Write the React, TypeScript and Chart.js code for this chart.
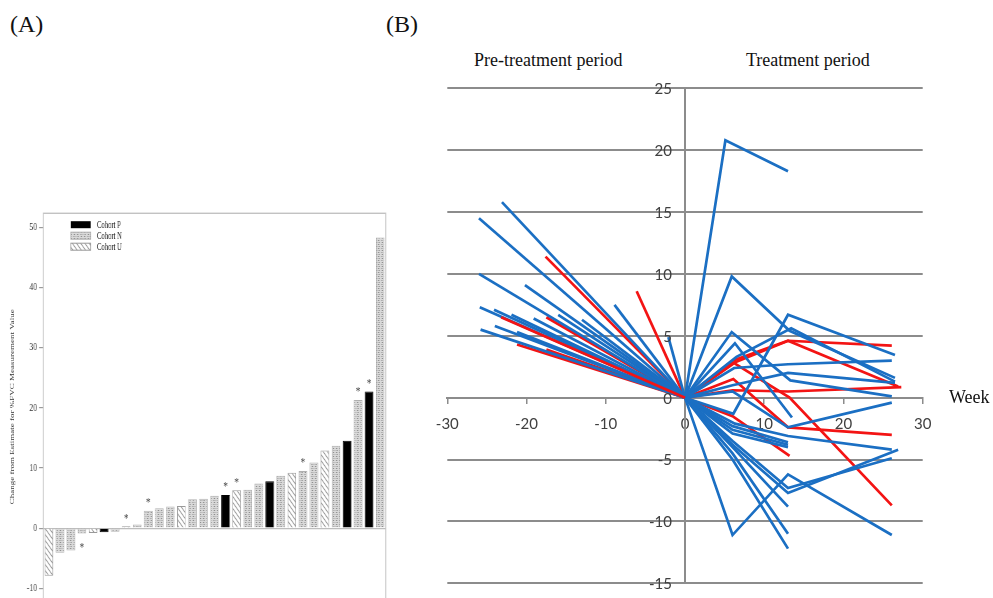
import React, { useEffect, useRef } from "react";
import { Chart, registerables } from "chart.js";

Chart.register(...registerables);

// ---------- Panel A data ----------
const patientLabels = ["1","2","3","4","5","6","7","8","9","10","11","12","13","14","15","16","17","18","19","20","21","22","23","24","25","26","27","28","29","30","31"];
const cohorts = ["U","N","N","N","U","P","N","U","N","N","N","N","U","N","N","N","P","U","N","N","P","N","U","N","N","U","N","P","N","P","N"];
const changes = [-7.9,-4.1,-3.7,-0.9,-0.8,-0.7,-0.6,0.3,0.6,2.9,3.3,3.6,3.7,4.8,4.9,5.4,5.5,6.3,6.4,7.4,7.8,8.7,9.2,9.5,10.9,12.9,13.7,14.5,21.3,22.7,48.3];
const starredBars = [3,7,9,16,17,23,28,29];
const yTicksA = [-10,0,10,20,30,40,50];
const legendA = [
  { key: "P", label: "Cohort P" },
  { key: "N", label: "Cohort N" },
  { key: "U", label: "Cohort U" },
];
const yTitleA = "Change from Estimate for %FVC Measurement Value";

// ---------- Panel B data (week, change) ----------
const preBlue: [number, number][] = [
  [-23.1,15.8],[-26.0,14.5],[-26.0,10.0],[-20.2,9.1],[-8.9,7.5],[-25.9,7.3],[-24.1,7.1],
  [-21.9,6.7],[-19.1,6.4],[-16.0,6.7],[-13.0,6.3],[-25.8,5.5],[-24.0,5.8],[-21.2,5.3],[-2.1,4.9],
];
const preRed: [number, number][] = [
  [-23.2,6.5],[-17.6,11.4],[-6.1,8.6],[-17.5,6.5],[-21.2,4.3],[-17.5,3.9],
];
const postBlue: [number, number][][] = [
  [[5.1,20.8],[13,18.3]],
  [[5.9,9.8],[13.2,5.4],[26.5,1.6]],
  [[6.1,-1.3],[13,6.7],[26.5,3.45]],
  [[5.9,5.3],[13.3,1.4],[26.1,0.1]],
  [[6.3,4.4],[13.5,-1.6]],
  [[6.2,2.4],[13,2.7],[26.1,3.0]],
  [[6,1.0],[13,2.0],[26.5,1.2]],
  [[6.5,3.3],[13.4,5.6],[26.5,1.3]],
  [[6,0.5],[13,-2.4],[26.1,-0.4]],
  [[6.3,-2.1],[13,-3.1],[26.1,-4.2]],
  [[6,-2.3],[13,-3.6]],
  [[6,-2.6],[13,-3.8]],
  [[6,-2.9],[13,-4.0]],
  [[6,-11.1],[13,-6.2],[26.1,-11.1]],
  [[6,-3.8],[13,-7.7],[26.9,-4.2]],
  [[6,-3.5],[13,-7.3],[26.1,-4.9]],
  [[6,-4.0],[13,-8.8]],
  [[6,-4.5],[13,-11.0]],
  [[6,-5.0],[13,-12.2]],
];
const postRed: [number, number][][] = [
  [[6.1,2.8],[13,4.6],[26.1,4.2]],
  [[6.2,2.8],[13.2,0.0],[26.1,-8.7]],
  [[6.1,3.0],[13,4.6],[26.9,0.9]],
  [[6.1,1.5],[13,-2.4],[26.1,-3.0]],
  [[6,0.6],[13,0.5],[27.3,0.85]],
  [[6,-1.5],[13.2,-4.7]],
];
const origin: [number, number] = [0, 0];

const SERIF = "'Liberation Serif', 'Times New Roman', serif";
const SANS = "Lato, 'Liberation Sans', sans-serif";
const BLUE = "#1b6fc3";
const RED = "#f31414";
const SX = 0.7; // horizontal squash of panel A

function makePattern(kind: string): CanvasPattern | string {
  const c = document.createElement("canvas");
  const s = kind === "U" ? 6 : 4;
  c.width = s;
  c.height = s;
  const g = c.getContext("2d")!;
  if (kind === "N") {
    g.fillStyle = "#dadada";
    g.fillRect(0, 0, s, s);
    g.fillStyle = "#858585";
    g.fillRect(0, 0, 1, 1);
    g.fillRect(2, 2, 1, 1);
    g.fillStyle = "#b0b0b0";
    g.fillRect(2, 0, 1, 1);
    g.fillRect(0, 2, 1, 1);
  } else {
    g.fillStyle = "#ffffff";
    g.fillRect(0, 0, s, s);
    g.strokeStyle = "#959595";
    g.lineWidth = 1.1;
    g.beginPath();
    g.moveTo(-1, -1);
    g.lineTo(s + 1, s + 1);
    g.moveTo(-1, s - 1);
    g.lineTo(1, s + 1);
    g.moveTo(s - 1, -1);
    g.lineTo(s + 1, 1);
    g.stroke();
  }
  return g.createPattern(c, "repeat") || "#ccc";
}

function PanelA() {
  const ref = useRef<HTMLCanvasElement>(null);
  useEffect(() => {
    const fills: Record<string, any> = { P: "#000000", N: makePattern("N"), U: makePattern("U") };
    const borders: Record<string, string> = { P: "#000000", N: "#b0b0b0", U: "#999999" };

    const framePlugin = {
      id: "frameA",
      beforeDatasetsDraw(chart: any) {
        const { ctx, chartArea } = chart;
        ctx.save();
        ctx.strokeStyle = "#c2c2c2";
        ctx.lineWidth = 1.4;
        ctx.strokeRect(chartArea.left, chartArea.top, chartArea.right - chartArea.left, chartArea.bottom - chartArea.top);
        ctx.restore();
      },
    };
    const starPlugin = {
      id: "starsA",
      afterDatasetsDraw(chart: any) {
        const { ctx } = chart;
        const meta = chart.getDatasetMeta(0);
        ctx.save();
        ctx.fillStyle = "#444";
        ctx.font = `13px ${SERIF}`;
        ctx.textAlign = "center";
        ctx.textBaseline = "middle";
        starredBars.forEach((i) => {
          const el = meta.data[i];
          const v = changes[i];
          const y = v >= 0 ? el.y - 8 : el.y + 14;
          ctx.fillText("*", el.x, y);
        });
        ctx.restore();
      },
    };
    const legendPlugin = {
      id: "legendA",
      afterDraw(chart: any) {
        const { ctx } = chart;
        ctx.save();
        legendA.forEach((item, k) => {
          const cy = 24.7 + k * 11;
          const bx = 101, bw = 28.6, bh = 7;
          ctx.fillStyle = fills[item.key];
          ctx.fillRect(bx, cy - bh / 2, bw, bh);
          if (item.key !== "P") {
            ctx.strokeStyle = borders[item.key];
            ctx.lineWidth = 1;
            ctx.strokeRect(bx, cy - bh / 2, bw, bh);
          }
          ctx.fillStyle = "#222";
          ctx.font = `9.5px ${SERIF}`;
          ctx.textAlign = "left";
          ctx.textBaseline = "middle";
          ctx.fillText(item.label, 138.6, cy + 0.5);
        });
        ctx.restore();
      },
    };

    const chart = new Chart(ref.current!, {
      type: "bar",
      data: {
        labels: patientLabels,
        datasets: [
          {
            data: changes,
            backgroundColor: cohorts.map((c) => fills[c]),
            borderColor: cohorts.map((c) => borders[c]),
            borderWidth: 1,
            barPercentage: 0.78,
            categoryPercentage: 1,
          },
        ],
      },
      options: {
        responsive: false,
        animation: false,
        devicePixelRatio: 1,
        layout: { padding: { top: 13.3, bottom: 8.9, left: 0, right: 21 } },
        plugins: { legend: { display: false }, tooltip: { enabled: false } },
        scales: {
          x: { display: false, offset: true },
          y: {
            min: -12,
            max: 52.3,
            afterBuildTicks: (s: any) => {
              s.ticks = yTicksA.map((v) => ({ value: v }));
            },
            afterFit: (s: any) => {
              s.width = 61.9;
            },
            ticks: { font: { family: SERIF, size: 11 }, color: "#333", padding: 3 },
            grid: {
              color: (c: any) => (c.tick && c.tick.value === 0 ? "#bdbdbd" : "rgba(0,0,0,0)"),
              tickColor: "#9a9a9a",
              tickLength: 6,
              lineWidth: 1.2,
            },
            border: { display: false },
            title: {
              display: true,
              text: yTitleA,
              font: { family: SERIF, size: 9 },
              color: "#333",
              padding: { top: 12, bottom: 0 },
            },
          },
        },
      },
      plugins: [framePlugin, starPlugin, legendPlugin],
    } as any);
    return () => chart.destroy();
  }, []);
  return (
    <canvas
      ref={ref}
      width={572}
      height={410}
      style={{
        position: "absolute",
        left: 0,
        top: 200,
        transform: `scaleX(${SX})`,
        transformOrigin: "0 0",
      }}
    />
  );
}

function PanelB() {
  const ref = useRef<HTMLCanvasElement>(null);
  useEffect(() => {
    const toPts = (pts: [number, number][]) => pts.map(([x, y]) => ({ x, y }));
    const line = (pts: [number, number][], color: string) => ({
      data: toPts(pts),
      showLine: true,
      borderColor: color,
      backgroundColor: color,
      borderWidth: 2.7,
      pointRadius: 0,
      tension: 0,
      fill: false,
    });
    const datasets: any[] = [];
    datasets.push(line([preRed[0], origin], RED));
    preBlue.forEach((p) => datasets.push(line([p, origin], BLUE)));
    postBlue.forEach((t) => datasets.push(line([origin, ...t], BLUE)));
    preRed.slice(1).forEach((p) => datasets.push(line([p, origin], RED)));
    postRed.forEach((t) => datasets.push(line([origin, ...t], RED)));

    // y tick labels placed left of the centred vertical axis, with a gap
    const yLabels = {
      id: "yLabelsB",
      afterDraw(chart: any) {
        const { ctx, scales } = chart;
        const ys = scales.y;
        const ax = scales.x.getPixelForValue(0);
        ctx.save();
        ctx.fillStyle = "#404040";
        ctx.font = `15px ${SANS}`;
        ctx.textAlign = "right";
        ctx.textBaseline = "middle";
        ys.ticks.forEach((t: any) => {
          ctx.fillText(String(t.value), ax - 13, ys.getPixelForValue(t.value) + 1);
        });
        ctx.restore();
      },
    };

    const chart = new Chart(ref.current!, {
      type: "scatter",
      data: { datasets },
      options: {
        responsive: false,
        animation: false,
        devicePixelRatio: 1,
        layout: { padding: { left: 27.3, right: 70.3, top: 18.3, bottom: 14.7 } },
        plugins: { legend: { display: false }, tooltip: { enabled: false } },
        scales: {
          x: {
            type: "linear",
            min: -30,
            max: 30,
            position: { y: 0 },
            ticks: { stepSize: 10, font: { family: SANS, size: 15 }, color: "#404040", padding: 12, maxRotation: 0 },
            grid: { drawOnChartArea: false, drawTicks: true, tickLength: 5, color: "#8c8c8c", lineWidth: 1.5 },
            border: { color: "#8c8c8c", width: 2 },
          },
          y: {
            type: "linear",
            min: -15,
            max: 25,
            position: { x: 0 },
            ticks: { stepSize: 5, display: false },
            grid: { color: "#8c8c8c", lineWidth: 2, drawTicks: false },
            border: { color: "#8c8c8c", width: 2 },
          },
        },
      },
      plugins: [yLabels],
    } as any);
    return () => chart.destroy();
  }, []);
  return <canvas ref={ref} width={573} height={528} style={{ position: "absolute", left: 420, top: 70 }} />;
}

const textStyle: React.CSSProperties = {
  position: "absolute",
  fontFamily: SERIF,
  lineHeight: 1,
  whiteSpace: "nowrap",
  color: "#111",
};

export default function App() {
  return (
    <div
      style={{
        position: "fixed",
        left: 0,
        top: 0,
        width: 993,
        height: 598,
        overflow: "hidden",
        background: "#ffffff",
      }}
    >
      <PanelA />
      <PanelB />
      <div style={{ ...textStyle, left: 10, top: 11.5, fontSize: 24 }}>(A)</div>
      <div style={{ ...textStyle, left: 386, top: 11.5, fontSize: 24 }}>(B)</div>
      <div style={{ ...textStyle, left: 474, top: 50.5, fontSize: 18 }}>Pre-treatment period</div>
      <div style={{ ...textStyle, left: 746, top: 50.5, fontSize: 18 }}>Treatment period</div>
      <div style={{ ...textStyle, left: 949, top: 388.4, fontSize: 18 }}>Week</div>
    </div>
  );
}
